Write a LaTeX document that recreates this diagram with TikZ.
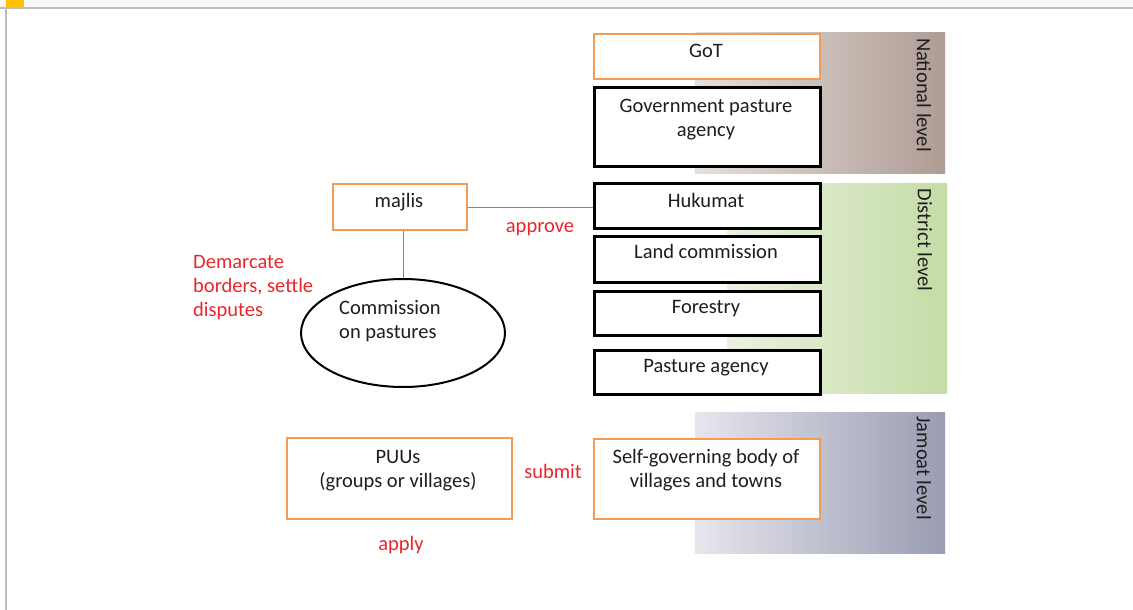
\documentclass[tikz,border=0pt]{standalone}
\usepackage{fontspec}
\setmainfont{Carlito}
\usetikzlibrary{shapes.geometric}
\definecolor{orangeline}{HTML}{F39C55}
\definecolor{redlab}{HTML}{E8262B}
\definecolor{txtgray}{HTML}{1E1E1E}
\definecolor{linkblue}{HTML}{5F8DC0}
\definecolor{framegray}{HTML}{BDBDBD}
\definecolor{stripgray}{HTML}{F7F7F7}
\definecolor{tabgold}{HTML}{FFC000}
\definecolor{natL}{HTML}{E6E0DC}
\definecolor{natR}{HTML}{AE9C94}
\definecolor{disL}{HTML}{EAF2E0}
\definecolor{disR}{HTML}{C4DCA6}
\definecolor{jamL}{HTML}{E6E6EC}
\definecolor{jamR}{HTML}{9A9CB2}
\begin{document}
\begin{tikzpicture}[x=1pt,y=-1pt,
  font=\fontsize{20.5}{24}\selectfont,
  box/.style={draw=black, line width=2.6pt, fill=white, inner sep=0pt, anchor=north west},
  obox/.style={draw=orangeline, line width=2.2pt, fill=white, inner sep=0pt, anchor=north west},
  txt/.style={text=txtgray, inner sep=0pt, align=center, anchor=base},
  redlbl/.style={text=redlab, inner sep=0pt, anchor=base},
  lvl/.style={text=txtgray, inner sep=0pt, rotate=-90},
  link/.style={draw=linkblue, line width=1pt}]
\useasboundingbox (0,0) rectangle (1133,610);
% frame
\fill[stripgray] (0,0) rectangle (1133,7);
\fill[framegray] (0,7) rectangle (1133,9);
\fill[framegray] (5,7) rectangle (7,610);
\fill[tabgold] (6,0) rectangle (24,7);
% level bands
\shade[left color=natL, right color=natR] (695,33) rectangle (945,173);
\shade[left color=disL, right color=disR] (727,183) rectangle (947,393);
\shade[left color=jamL, right color=jamR] (695,412) rectangle (945,553);
\node[lvl] (lnat) at (924,95) {National level};
\node[lvl] (ldis) at (925,240) {District level};
\node[lvl] (ljam) at (924,468) {Jamoat level};
% boxes
\node[obox, minimum width=226pt, minimum height=45pt] (got) at (593,33) {};
\node[box, minimum width=226pt, minimum height=79pt] (gpa) at (593,86) {};
\node[box, minimum width=226pt, minimum height=45pt] (huk) at (593,182) {};
\node[box, minimum width=226pt, minimum height=46pt] (land) at (593,235) {};
\node[box, minimum width=226pt, minimum height=44pt] (fore) at (593,290) {};
\node[box, minimum width=226pt, minimum height=44pt] (pas) at (593,349) {};
\node[obox, minimum width=226pt, minimum height=80pt] (self) at (593,438) {};
\node[obox, minimum width=134pt, minimum height=46pt] (majlis) at (332,183) {};
\node[obox, minimum width=225pt, minimum height=81pt] (puus) at (286,437) {};
\node[ellipse, draw=black, line width=2pt, fill=white, minimum width=204pt, minimum height=108pt, inner sep=0pt] (comm) at (403,333) {};
% texts
\node[txt] (tgot) at (706,58) {GoT};
\node[txt] (tgpa) at (706,136) {Government pasture\\agency};
\node[txt] (thuk) at (706,207) {Hukumat};
\node[txt] (tland) at (706,258) {Land commission};
\node[txt] (tfore) at (706,313) {Forestry};
\node[txt] (tpas) at (706,372) {Pasture agency};
\node[txt] (tself) at (706,487) {Self-governing body of\\villages and towns};
\node[txt] (tmaj) at (399,207) {majlis};
\node[txt] (tpuus) at (398,487) {PUUs\\(groups or villages)};
\node[txt, align=left, anchor=base west] (tcomm) at (339,338) {Commission\\on pastures};
% connectors
\draw[link] (majlis.east) -- (majlis.east -| huk.west);
\draw[link] (comm.north |- majlis.south) -- (comm.north);
% red labels
\node[redlbl] (rapp) at (540,232) {approve};
\node[redlbl, align=left, anchor=base west] (rdem) at (193,316) {Demarcate\\borders, settle\\disputes};
\node[redlbl] (rsub) at (553,478) {submit};
\node[redlbl] (rapl) at (401,550) {apply};
\end{tikzpicture}
\end{document}
